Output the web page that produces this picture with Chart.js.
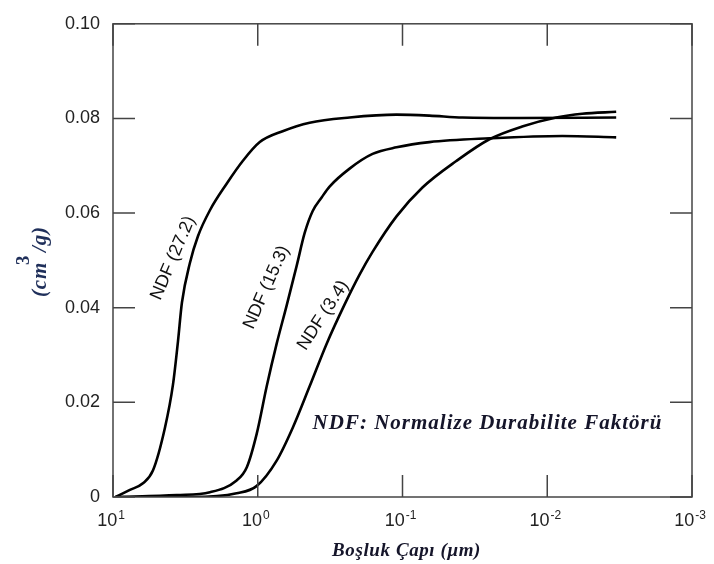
<!DOCTYPE html>
<html>
<head>
<meta charset="utf-8">
<script src="https://cdn.jsdelivr.net/npm/chart.js@4.4.0/dist/chart.umd.min.js"></script>
<style>
  html, body { margin: 0; padding: 0; background: #fff; }
  #wrap { width: 714px; height: 564px; }
</style>
</head>
<body>
<div id="wrap"><canvas id="poreChart" width="714" height="564"></canvas></div>
<script>
// pore diameter (um) and cumulative pore volume (cm3/g)
const diam27 = [9.6, 7.64, 6.21, 5.3, 4.38, 3.85, 3.56, 3.34, 2.94, 2.59, 2.14, 1.64, 1.27, 0.968, 0.673, 0.438, 0.232, 0.11, 0.0652, 0.0385, 0.0156, 0.00334];
const vol27 = [0, 0.0015, 0.0029, 0.0056, 0.0146, 0.0238, 0.0328, 0.0411, 0.0495, 0.0551, 0.0606, 0.0662, 0.071, 0.075, 0.0773, 0.0791, 0.0802, 0.0808, 0.0806, 0.0802, 0.0801, 0.0802];

const diam15 = [9.6, 3.62, 2.14, 1.4, 1.19, 1.016, 0.867, 0.74, 0.631, 0.538, 0.474, 0.418, 0.362, 0.319, 0.232, 0.161, 0.11, 0.0652, 0.0251, 0.00788, 0.00334];
const vol15 = [0, 0.0004, 0.001, 0.0035, 0.0063, 0.0134, 0.0234, 0.0324, 0.0405, 0.0489, 0.0558, 0.0604, 0.0633, 0.0656, 0.0694, 0.0725, 0.0739, 0.075, 0.0758, 0.0763, 0.076];

const diam34 = [9.6, 2.81, 1.4, 1.02, 0.74, 0.574, 0.438, 0.334, 0.251, 0.198, 0.161, 0.11, 0.0728, 0.0425, 0.0251, 0.0149, 0.00867, 0.00574, 0.00334];
const vol34 = [0, 0, 0.0008, 0.0023, 0.0077, 0.0146, 0.0234, 0.0324, 0.0407, 0.047, 0.0518, 0.0593, 0.0654, 0.071, 0.0756, 0.0783, 0.0802, 0.081, 0.0814];

const xTicks = [10, 1, 0.1, 0.01, 0.001];
const yTicks = [0, 0.02, 0.04, 0.06, 0.08, 0.1];

// curve labels, anchored in data units
const curveLabels = ["NDF (27.2)", "NDF (15.3)", "NDF (3.4)"];
const labelX = [3.84, 0.87, 0.353];
const labelY = [0.0505, 0.0443, 0.0384];
const labelAngle = [-67, -66, -57];

const noteText = "NDF: Normalize Durabilite Faktörü";
const xTitle = "Boşluk Çapı (μm)";

function pts(xs, ys) {
  return xs.map((x, i) => ({ x: x, y: ys[i] }));
}

function curve(data) {
  return {
    data: data,
    borderColor: "#000",
    borderWidth: 2.6,
    pointRadius: 0,
    fill: false,
    cubicInterpolationMode: "monotone",
  };
}

const sans = "'Liberation Sans', Arial, sans-serif";
const serif = "'Liberation Serif', 'Times New Roman', serif";

// frame with inward ticks on all four sides, x labels with exponents, titles
const decorations = {
  id: "decorations",
  afterDatasetsDraw(chart) {
    const ctx = chart.ctx;
    const a = chart.chartArea;
    const xs = chart.scales.x;
    const ys = chart.scales.y;
    const len = 22;

    ctx.save();
    ctx.strokeStyle = "#444";
    ctx.lineWidth = 1.5;
    ctx.strokeRect(a.left, a.top, a.right - a.left, a.bottom - a.top);
    ctx.beginPath();
    xTicks.forEach((v) => {
      const px = xs.getPixelForValue(v);
      ctx.moveTo(px, a.bottom); ctx.lineTo(px, a.bottom - len);
      ctx.moveTo(px, a.top); ctx.lineTo(px, a.top + len);
    });
    yTicks.forEach((v) => {
      const py = ys.getPixelForValue(v);
      ctx.moveTo(a.left, py); ctx.lineTo(a.left + len, py);
      ctx.moveTo(a.right, py); ctx.lineTo(a.right - len, py);
    });
    ctx.stroke();

    // x tick labels: 10 with superscript exponent
    ctx.fillStyle = "#222";
    ctx.textBaseline = "alphabetic";
    ctx.textAlign = "left";
    xTicks.forEach((v) => {
      const ex = String(Math.round(Math.log10(v)));
      ctx.font = "18px " + sans;
      const wb = ctx.measureText("10").width;
      ctx.font = "12px " + sans;
      const we = ctx.measureText(ex).width;
      const px = xs.getPixelForValue(v);
      const x0 = px - (wb + we + 1) / 2 - 2;
      const base = a.bottom + 29;
      ctx.font = "18px " + sans;
      ctx.fillText("10", x0, base);
      ctx.font = "12px " + sans;
      ctx.fillText(ex, x0 + wb + 1, base - 7);
    });

    // x axis title
    ctx.font = "italic bold 19px " + serif;
    ctx.letterSpacing = "0.6px";
    ctx.textAlign = "center";
    ctx.fillStyle = "#15152a";
    ctx.fillText(xTitle, (a.left + a.right) / 2 + 4, a.bottom + 59);

    // y axis title (cm3/g), rotated
    ctx.save();
    ctx.translate(46, 297);
    ctx.rotate(-Math.PI / 2);
    ctx.textAlign = "left";
    ctx.fillStyle = "#1f2f5a";
    ctx.font = "italic bold 21px " + serif;
    ctx.letterSpacing = "0.8px";
    const w1 = ctx.measureText("(cm").width;
    ctx.fillText("(cm", 0, 0);
    ctx.fillText("/g)", w1 + 10, 0);
    ctx.font = "bold 19px " + serif;
    ctx.fillText("3", w1 - 3, -17);
    ctx.restore();

    // curve labels
    ctx.letterSpacing = "0px";
    ctx.font = "18px " + sans;
    ctx.fillStyle = "#111";
    ctx.textAlign = "center";
    ctx.textBaseline = "middle";
    curveLabels.forEach((t, i) => {
      ctx.save();
      ctx.translate(xs.getPixelForValue(labelX[i]), ys.getPixelForValue(labelY[i]));
      ctx.rotate(labelAngle[i] * Math.PI / 180);
      ctx.fillText(t, 0, 0);
      ctx.restore();
    });

    // note
    ctx.font = "italic bold 21px " + serif;
    ctx.letterSpacing = "1px";
    ctx.fillStyle = "#15152a";
    ctx.textAlign = "left";
    ctx.fillText(noteText, xs.getPixelForValue(0.418), ys.getPixelForValue(0.0155));
    ctx.restore();
  },
};

const ctx = document.getElementById("poreChart").getContext("2d");
const poreChart = new Chart(ctx, {
  type: "line",
  data: {
    datasets: [curve(pts(diam27, vol27)), curve(pts(diam15, vol15)), curve(pts(diam34, vol34))],
  },
  options: {
    responsive: false,
    animation: false,
    devicePixelRatio: 1,
    layout: { padding: { left: 0, top: 18, right: 22, bottom: 0 } },
    plugins: {
      legend: { display: false },
      tooltip: { enabled: false },
    },
    scales: {
      x: {
        type: "logarithmic",
        reverse: true,
        min: 0.001,
        max: 10,
        grid: { display: false, drawTicks: false },
        border: { display: false },
        ticks: { display: false },
        afterFit(scale) { scale.height = 67; },
      },
      y: {
        min: 0,
        max: 0.1,
        grid: { display: false, drawTicks: false },
        border: { display: false },
        ticks: {
          stepSize: 0.02,
          padding: 13,
          color: "#222",
          font: { family: sans, size: 18 },
          callback: (v) => (v === 0 ? "0" : v.toFixed(2)),
        },
        afterFit(scale) { scale.width = 113; },
      },
    },
  },
  plugins: [decorations],
});
</script>
</body>
</html>
